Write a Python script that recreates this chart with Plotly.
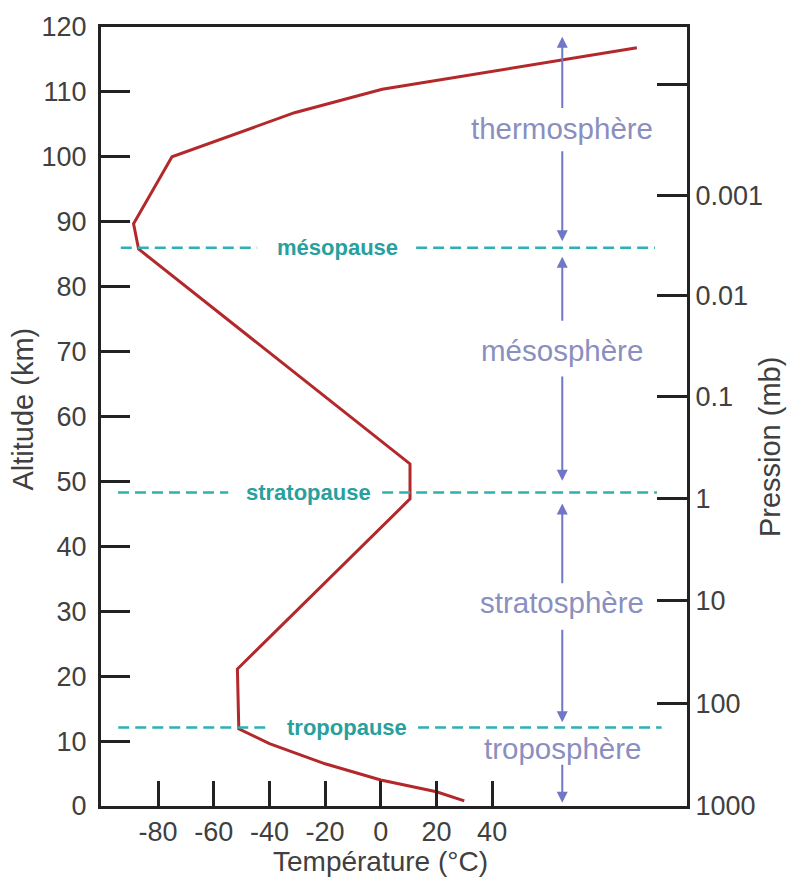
import plotly.graph_objects as go

# Temperature profile of the standard atmosphere
temp_c = [30, 20, 0, -20, -40, -51, -51.5, 10.5, 10.5, -87, -88.8, -75, -31, 0.5, 92]
alt_km = [0.8, 2.2, 4, 6.5, 9.6, 11.9, 21.1, 47.3, 52.7, 85.8, 89.7, 100, 106.8, 110.4, 116.8]

# Axis ticks
temp_ticks = [-80, -60, -40, -20, 0, 20, 40]
temp_tick_labels = ["-80", "-60", "-40", "-20", "0", "20", "40"]
alt_ticks = list(range(0, 121, 10))

# Pressure scale (mb) and the altitude each value sits at
pressure_labels = ["", "0.001", "0.01", "0.1", "1", "10", "100", "1000"]
pressure_alt_km = [111.1, 94.1, 78.6, 63.1, 47.3, 31.7, 15.8, 0]

# Layer boundaries (km)
pause_names = ["tropopause", "stratopause", "mésopause"]
pause_alt_km = [12.1, 48.3, 86.0]

# Layers and the altitude of their label (km)
layer_names = ["troposphère", "stratosphère", "mésosphère", "thermosphère"]
layer_label_alt_km = [8.9, 31.3, 70.1, 104.3]

AXIS_COLOR = "#222222"
TEXT_COLOR = "#404040"
CURVE_COLOR = "#b3282b"
DASH_COLOR = "#2fb0b2"
PAUSE_TEXT = "#27a09e"
ARROW_COLOR = "#6f77c6"
LAYER_TEXT = "#8a8fbf"
FONT = "Liberation Sans, Arial, sans-serif"

fig = go.Figure()

fig.add_trace(go.Scatter(
    x=temp_c, y=alt_km, mode="lines",
    line=dict(color=CURVE_COLOR, width=3),
    hoverinfo="skip", showlegend=False,
))

# invisible trace so the pressure axis is drawn
fig.add_trace(go.Scatter(
    x=[-100] * len(pressure_alt_km), y=pressure_alt_km, yaxis="y2",
    mode="markers", marker=dict(opacity=0), hoverinfo="skip", showlegend=False,
))

# dashed boundary lines, broken around their label: (left start, left end, right start, right end, label x)
pause_layout = {
    "tropopause": (-94.3, -41.0, 13.4, 100.9, -12.2),
    "stratopause": (-94.4, -54.8, 0.5, 99.2, -26.0),
    "mésopause": (-93.4, -44.4, 12.7, 98.5, -15.5),
}
shapes = []
annotations = []
for name, alt in zip(pause_names, pause_alt_km):
    l0, l1, r0, r1, lx = pause_layout[name]
    for a, b in ((l0, l1), (r0, r1)):
        shapes.append(dict(
            type="line", xref="x", yref="y", x0=a, x1=b, y0=alt, y1=alt,
            line=dict(color=DASH_COLOR, width=2.6, dash="11px,6px"),
        ))
    annotations.append(dict(
        x=lx, y=alt, xref="x", yref="y", text=name, showarrow=False,
        font=dict(family=FONT, size=22, color=PAUSE_TEXT, weight="bold"),
        xanchor="center", yanchor="middle",
    ))

# layer labels
LAYER_X = 65.2
for name, alt in zip(layer_names, layer_label_alt_km):
    annotations.append(dict(
        x=LAYER_X, y=alt, xref="x", yref="y", text=name, showarrow=False,
        font=dict(family=FONT, size=29.5, color=LAYER_TEXT),
        xanchor="center", yanchor="middle",
    ))

# arrows spanning each layer: (tail altitude, head altitude)
arrow_spans = [
    (107.3, 118.5), (101.1, 87.0),
    (74.5, 84.6), (66.4, 50.1),
    (34.1, 46.6), (27.4, 12.9),
    (6.6, 0.5),
]
for tail, head in arrow_spans:
    annotations.append(dict(
        x=LAYER_X, y=head, ax=LAYER_X, ay=tail,
        xref="x", yref="y", axref="x", ayref="y",
        text="", showarrow=True, arrowhead=2, arrowsize=1.1,
        arrowwidth=2, arrowcolor=ARROW_COLOR, standoff=0, startstandoff=0,
    ))

# axis titles
annotations.append(dict(
    x=0, y=-0.0714, xref="x", yref="paper", text="Température (°C)",
    showarrow=False, font=dict(family=FONT, size=28, color=TEXT_COLOR),
    xanchor="center", yanchor="middle",
))
annotations.append(dict(
    x=-0.133, y=0.509, xref="paper", yref="paper", text="Altitude (km)",
    showarrow=False, textangle=-90, font=dict(family=FONT, size=29, color=TEXT_COLOR),
    xanchor="center", yanchor="middle",
))
annotations.append(dict(
    x=1.1416, y=0.462, xref="paper", yref="paper", text="Pression (mb)",
    showarrow=False, textangle=-90, font=dict(family=FONT, size=29, color=TEXT_COLOR),
    xanchor="center", yanchor="middle",
))

tick_font = dict(family=FONT, size=27, color=TEXT_COLOR)

fig.update_layout(
    width=787, height=879,
    margin=dict(l=101, r=100, t=22, b=73),
    paper_bgcolor="white", plot_bgcolor="white",
    showlegend=False,
    shapes=shapes, annotations=annotations,
    xaxis=dict(
        range=[-100.5, 110], tickmode="array", tickvals=temp_ticks,
        ticktext=temp_tick_labels,
        ticks="inside", ticklen=25, tickwidth=3, tickcolor=AXIS_COLOR,
        showline=True, linewidth=3, linecolor=AXIS_COLOR, mirror=True,
        showgrid=False, zeroline=False, tickfont=tick_font,
    ),
    yaxis=dict(
        range=[0, 120], tickmode="array", tickvals=alt_ticks,
        ticks="inside", ticklen=29, tickwidth=3, tickcolor=AXIS_COLOR,
        showline=True, linewidth=3, linecolor=AXIS_COLOR,
        showgrid=False, zeroline=False, tickfont=tick_font,
        ticklabelstandoff=6,
    ),
    yaxis2=dict(
        range=[0, 120], overlaying="y", side="right", anchor="x",
        tickmode="array", tickvals=pressure_alt_km, ticktext=pressure_labels,
        ticks="inside", ticklen=30, tickwidth=3, tickcolor=AXIS_COLOR,
        showline=True, linewidth=3, linecolor=AXIS_COLOR,
        showgrid=False, zeroline=False, tickfont=tick_font,
        ticklabelstandoff=0,
    ),
)

fig.write_html("out.html")
